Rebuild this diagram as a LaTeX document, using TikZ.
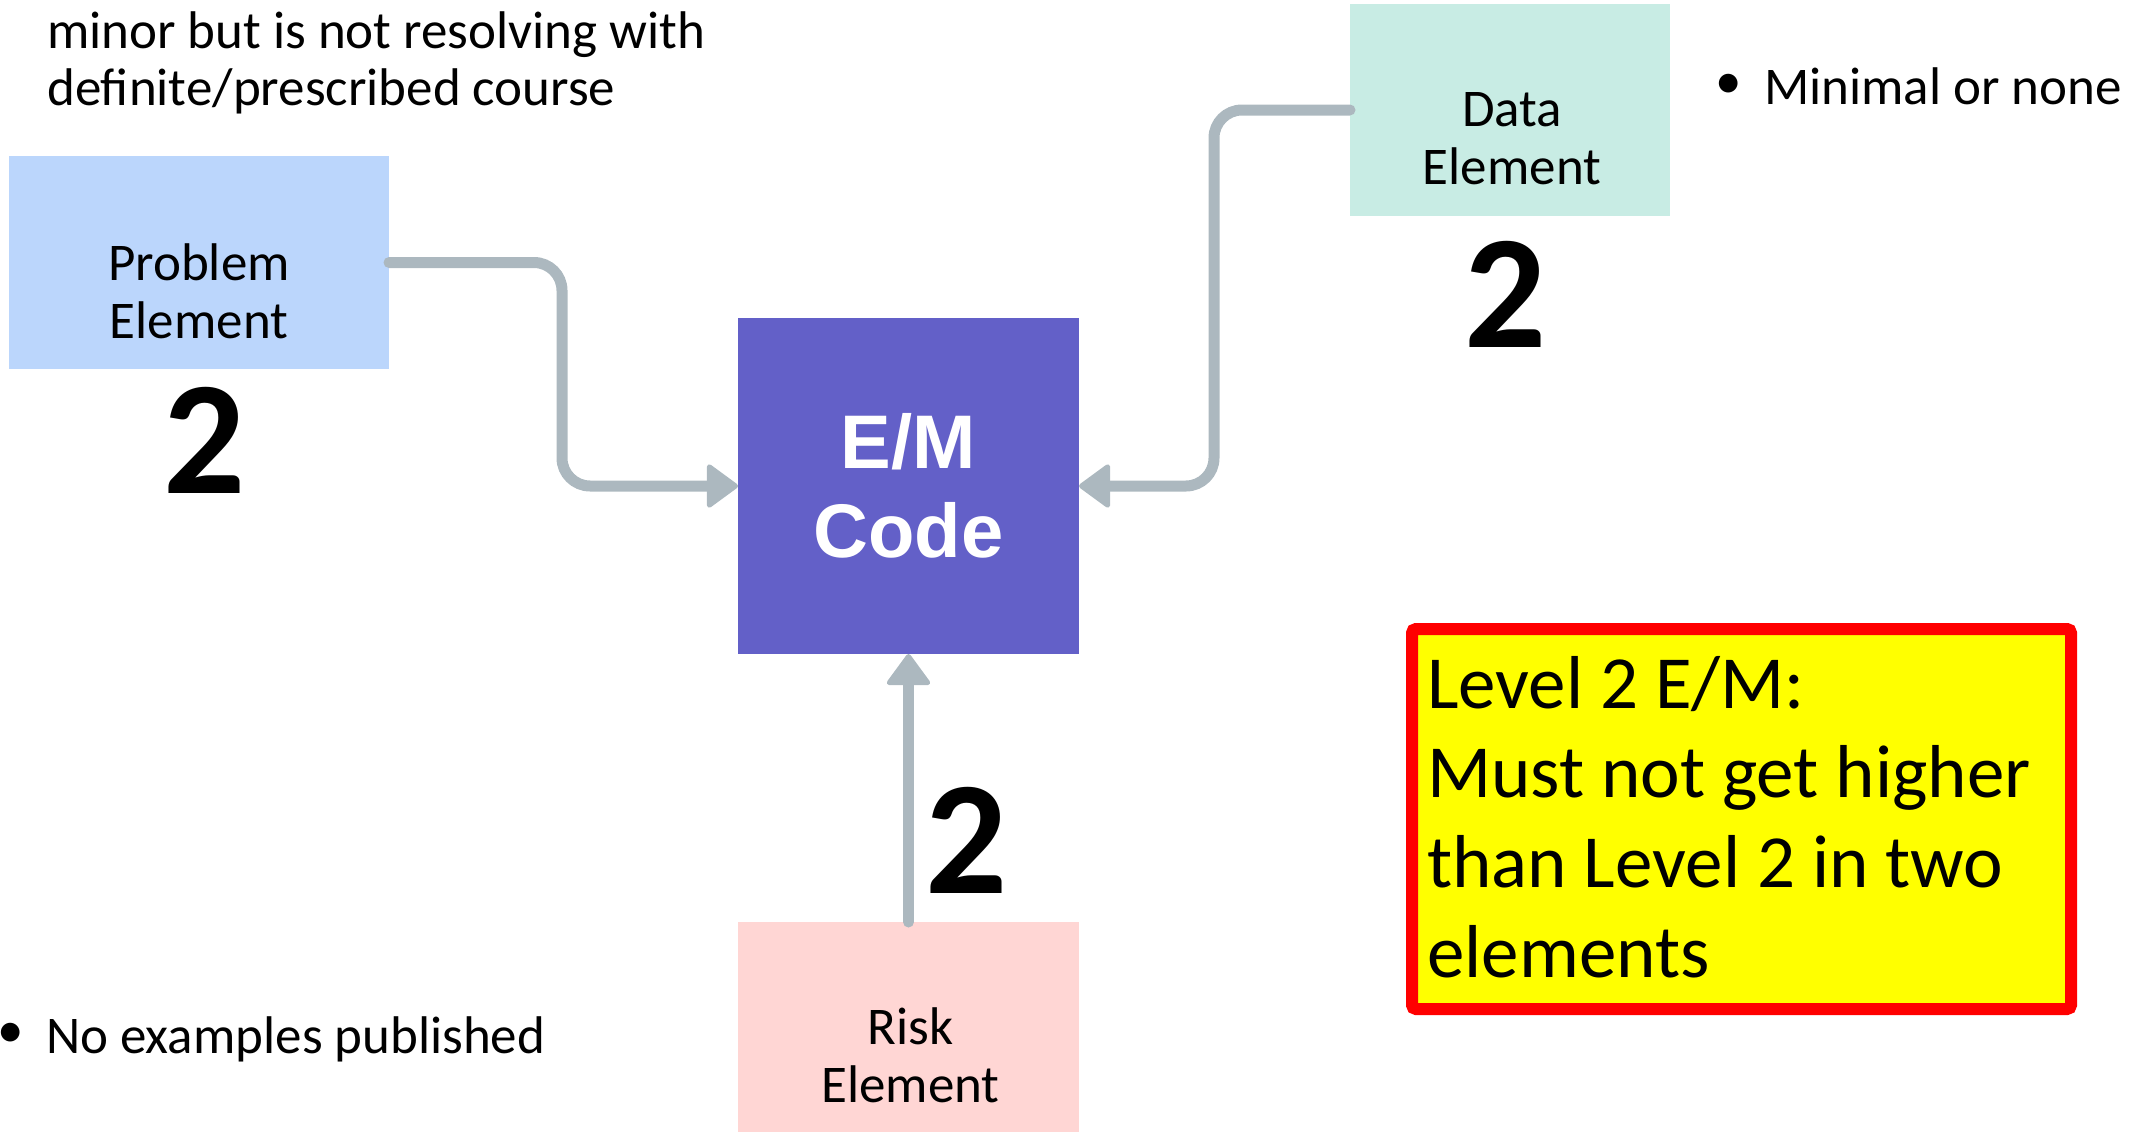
\documentclass[tikz,border=0pt]{standalone}
\usepackage{fontspec}
\setmainfont{Carlito}
\newfontfamily\emfont{Liberation Sans}
\usetikzlibrary{arrows.meta,calc}

\definecolor{probfill}{RGB}{187,214,252}
\definecolor{datafill}{RGB}{200,236,228}
\definecolor{riskfill}{RGB}{255,214,212}
\definecolor{emfill}{RGB}{99,96,200}
\definecolor{linkgray}{RGB}{172,184,191}
\definecolor{notered}{RGB}{255,0,0}
\definecolor{noteyellow}{RGB}{255,255,0}

% stacked lines whose first baseline is the box baseline
\newcommand\textlines[1]{\vtop{\hsize=1500pt\parindent=0pt #1\par}}

\begin{document}
\begin{tikzpicture}[x=1pt,y=-1pt,
  elembox/.style={rectangle, inner sep=0pt, outer sep=0pt, draw=none},
  elemlabel/.style={inner sep=0pt, align=center, font=\fontsize{53}{58}\selectfont},
  score/.style={inner sep=0pt, anchor=base, font=\fontsize{162}{170}\selectfont\bfseries},
  bodytext/.style={inner sep=0pt, anchor=base west, font=\fontsize{53}{57}\selectfont},
  notetext/.style={inner sep=0pt, anchor=base west, font=\fontsize{75}{89.7}\selectfont},
  bulletmark/.style={inner sep=0pt, font=\fontsize{53}{57}\selectfont},
  notebox/.style={rectangle, inner sep=0pt, draw=notered, fill=noteyellow, line width=12pt, rounded corners=4pt},
  link/.style={draw=linkgray, line width=11pt, line cap=round,
    -{Triangle[length=33pt,width=47pt,round,line width=5pt]}},
]
\useasboundingbox (0,0) rectangle (2139,1132);
\clip (0,0) rectangle (2139,1132);

% element boxes
\node[elembox, fill=probfill, minimum width=380pt, minimum height=213pt] (prob) at (199,262.5) {};
\node[elembox, fill=datafill, minimum width=320pt, minimum height=212pt] (data) at (1510,110) {};
\node[elembox, fill=riskfill, minimum width=341pt, minimum height=213pt] (risk) at (908.5,1028.5) {};
\node[elembox, fill=emfill, minimum width=341pt, minimum height=336pt] (emc) at (908.5,486) {};

% box labels
\node[elemlabel] (problbl) at ($(prob.center)+(0,29)$) {Problem\\Element};
\node[elemlabel] (datalbl) at ($(data.center)+(2,29)$) {Data\\Element};
\node[elemlabel] (risklbl) at ($(risk.center)+(2,27)$) {Risk\\Element};
\node[inner sep=0pt, align=center, text=white, font=\emfont\bfseries\fontsize{76}{89}\selectfont] (emlbl) at (emc.center) {E/M\\Code};

% connectors into the code box
\draw[link, rounded corners=28pt] (prob.east) -- ++(173,0) |- (emc.west);
\draw[link, rounded corners=28pt] (data.west) -- ++(-136,0) |- (emc.east);
\draw[link] (risk.north) -- (emc.south);

% level scores
\node[score] (probscore) at (205,493) {2};
\node[score] (datascore) at (1506,347) {2};
\node[score] (riskscore) at (967,893) {2};

% notes
\node[bodytext] (acute) at (47,-8) {\textlines{A problem that is normally self-limited or\\minor but is not resolving with\\definite/prescribed course}};
\node[bulletmark] (bulletdata) at (1729,86) {\textbullet};
\node[bodytext] (minimal) at (1764,104) {Minimal or none};
\node[bulletmark] (bulletrisk) at (11,1035) {\textbullet};
\node[bodytext] (noex) at (46,1053) {No examples published};

% summary box
\node[notebox, minimum width=659pt, minimum height=380pt] (note) at (1741.5,819) {};
\node[notetext] (notelines) at (1427,708) {\textlines{Level 2 E/M:\\Must not get higher\\than Level 2 in two\\elements}};
\end{tikzpicture}
\end{document}
